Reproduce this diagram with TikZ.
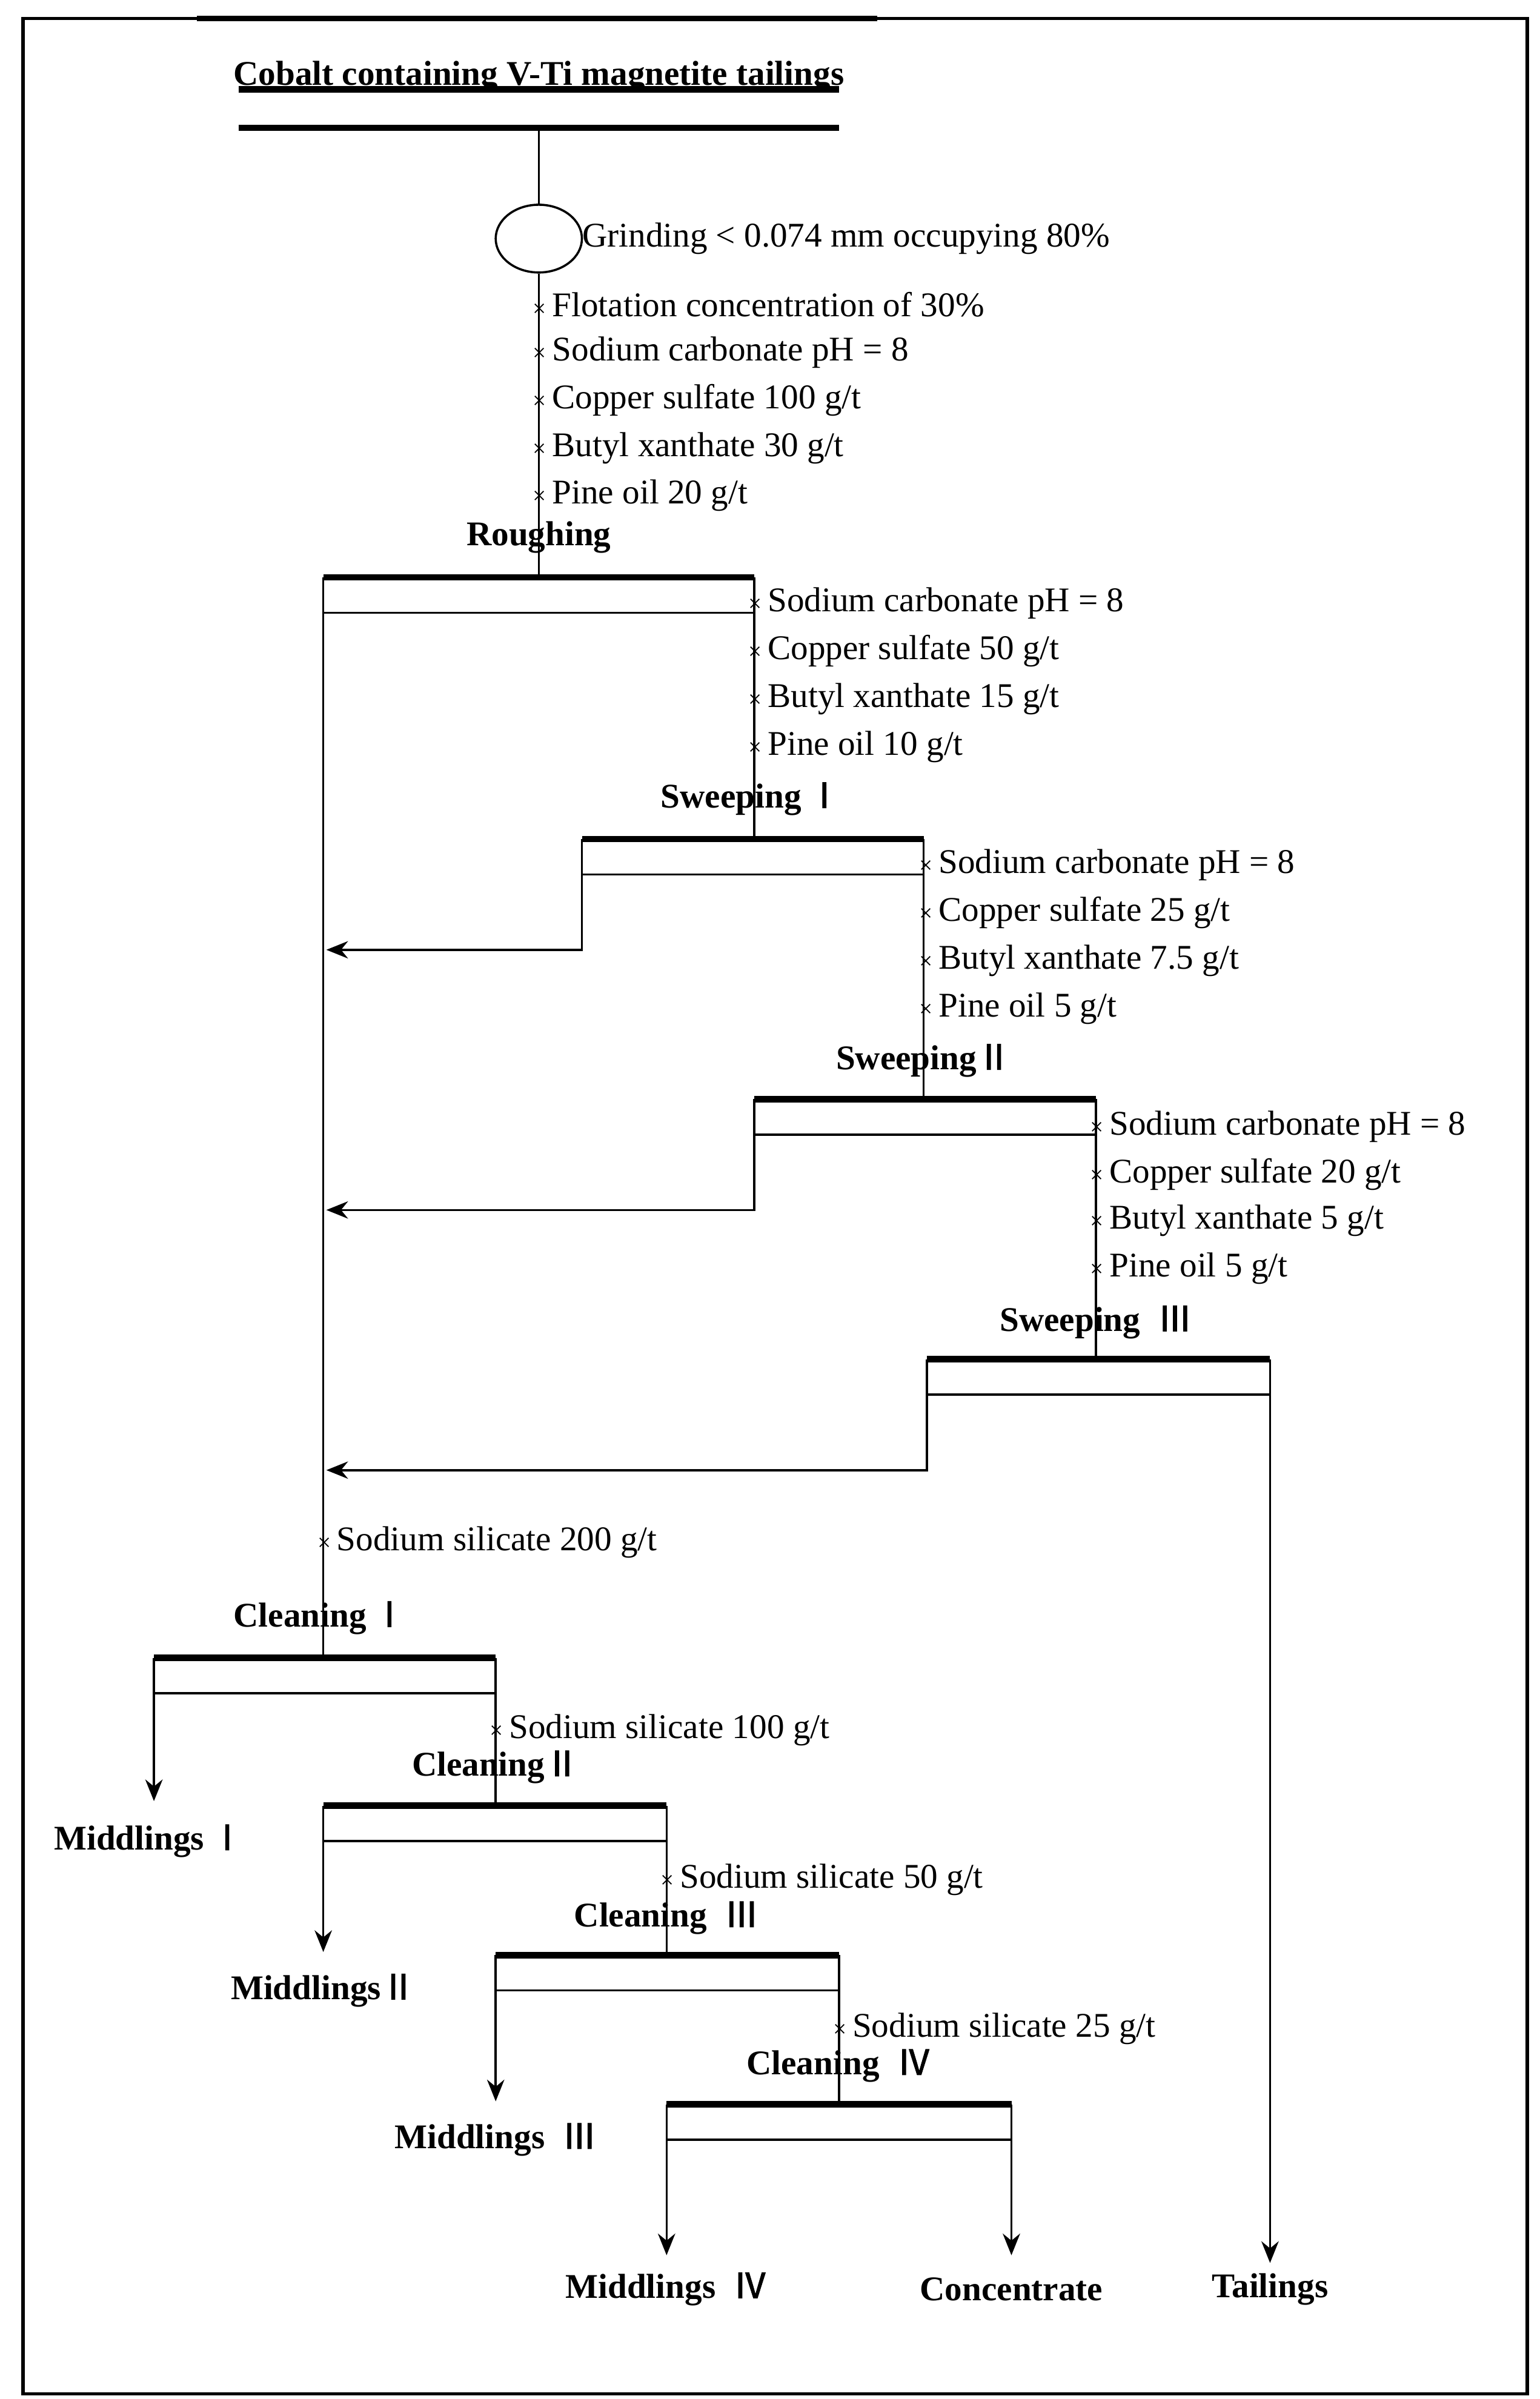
\documentclass[tikz,border=0pt]{standalone}
\usepackage{fontspec}
\setmainfont{Liberation Serif}
\newfontfamily\rn{Noto Sans CJK SC}[AutoFakeBold=2]
\usetikzlibrary{arrows.meta,shapes.geometric}
\begin{document}
\begin{tikzpicture}[x=0.025cm,y=-0.025cm,
  ln/.style={line width=1pt},
  bar/.style={line width=3pt},
  arr/.style={ln,-{Stealth[length=10pt,width=8pt]}},
  rg/.style={anchor=west,inner sep=0pt,font=\fontsize{16}{18}\selectfont},
  lb/.style={inner sep=0pt,font=\bfseries\fontsize{16}{18}\selectfont}]
\useasboundingbox (0,0) rectangle (1000,1558.4);
\newcommand{\mx}{{\fontsize{11}{12}\selectfont ×}\,}
% border
\draw[line width=1.6pt] (15,12) rectangle (992,1555);
\draw[line width=2.5pt] (128,12) -- (570,12);
% feed
\node[lb] (feed) at (350,50) {Cobalt containing V-Ti magnetite tailings};
\draw[bar] (155,58) -- (545,58);
\draw[bar] (155,83) -- (545,83);
\coordinate (f0) at (350,83);
\node[draw,ln,ellipse,minimum width=1.4cm,minimum height=1.1cm,inner sep=0pt] (mill) at (350,155) {};
\draw[ln] (f0) -- (mill.north);
\node[rg] (grind) at (378,155) {Grinding < 0.074 mm occupying 80\%};
% cells
\newcommand{\cell}[4]{%
  \draw[bar] (#2,#4) -- (#3,#4);
  \draw[ln] (#2,#4+23) -- (#3,#4+23);
  \coordinate (#1L) at (#2,#4);
  \coordinate (#1R) at (#3,#4);}
\cell{ro}{210}{490}{375}
\cell{s1}{378}{600}{545}
\cell{s2}{490}{712}{714}
\cell{s3}{602}{825}{883}
\cell{c1}{100}{322}{1077}
\cell{c2}{210}{433}{1173}
\cell{c3}{322}{545}{1270}
\cell{c4}{433}{657}{1367}
% feeds
\coordinate (roF) at (350,375);
\draw[ln] (mill.south) -- (roF);
\draw[ln] (roR) -- (490,545);
\draw[ln] (s1R) -- (600,714);
\draw[ln] (s2R) -- (712,883);
\draw[ln] (roL) -- (210,1077);
% recycle
\coordinate (m1) at (212,617);\coordinate (m2) at (212,786);\coordinate (m3) at (212,955);
\draw[arr] (s1L) -- (378,617) -- (m1);
\draw[arr] (s2L) -- (490,786) -- (m2);
\draw[arr] (s3L) -- (602,955) -- (m3);
% outputs
\node[lb] (tail) at (825,1487) {Tailings};
\node[lb] (mi1) at (97,1196) {Middlings\,{\rn Ⅰ}};
\node[lb] (mi2) at (210,1293) {Middlings{\rn Ⅱ}};
\node[lb] (mi3) at (322,1390) {Middlings \ {\rn Ⅲ}};
\node[lb] (mi4) at (433,1487) {Middlings \ {\rn Ⅳ}};
\node[lb] (conc) at (657,1487) {Concentrate};
\draw[arr] (s3R) -- (825,1470);
\draw[arr] (c1L) -- (100,1170);
\draw[arr] (c2L) -- (210,1268);
\draw[arr] (c3L) -- (322,1365);
\draw[arr] (c4L) -- (433,1465);
\draw[arr] (c4R) -- (657,1465);
\draw[ln] (c1R) -- (322,1173);
\draw[ln] (c2R) -- (433,1270);
\draw[ln] (c3R) -- (545,1367);
% labels
\node[lb] (lro) at (350,349) {Roughing};
\node[lb] (ls1) at (488,519) {Sweeping\,{\rn Ⅰ}};
\node[lb] (ls2) at (600,689) {Sweeping{\rn Ⅱ}};
\node[lb] (ls3) at (712,859) {Sweeping \ {\rn Ⅲ}};
\node[lb] (lc1) at (208,1051) {Cleaning\,{\rn Ⅰ}};
\node[lb] (lc2) at (322,1148) {Cleaning{\rn Ⅱ}};
\node[lb] (lc3) at (433,1246) {Cleaning \ {\rn Ⅲ}};
\node[lb] (lc4) at (545,1342) {Cleaning \ {\rn Ⅳ}};
% reagents
\node[rg] at (346,198) {\mx Flotation concentration of 30\%};
\node[rg] at (346,229) {\mx Sodium carbonate pH = 8};
\node[rg] at (346,260) {\mx Copper sulfate 100 g/t};
\node[rg] at (346,291) {\mx Butyl xanthate 30 g/t};
\node[rg] at (346,322) {\mx Pine oil 20 g/t};
\node[rg] at (486,392) {\mx Sodium carbonate pH = 8};
\node[rg] at (486,423) {\mx Copper sulfate 50 g/t};
\node[rg] at (486,454) {\mx Butyl xanthate 15 g/t};
\node[rg] at (486,485) {\mx Pine oil 10 g/t};
\node[rg] at (597,562) {\mx Sodium carbonate pH = 8};
\node[rg] at (597,593) {\mx Copper sulfate 25 g/t};
\node[rg] at (597,624) {\mx Butyl xanthate 7.5 g/t};
\node[rg] at (597,655) {\mx Pine oil 5 g/t};
\node[rg] at (708,732) {\mx Sodium carbonate pH = 8};
\node[rg] at (708,763) {\mx Copper sulfate 20 g/t};
\node[rg] at (708,793) {\mx Butyl xanthate 5 g/t};
\node[rg] at (708,824) {\mx Pine oil 5 g/t};
\node[rg] at (206,1002) {\mx Sodium silicate 200 g/t};
\node[rg] at (318,1124) {\mx Sodium silicate 100 g/t};
\node[rg] at (429,1221) {\mx Sodium silicate 50 g/t};
\node[rg] at (541,1318) {\mx Sodium silicate 25 g/t};
\end{tikzpicture}
\end{document}
